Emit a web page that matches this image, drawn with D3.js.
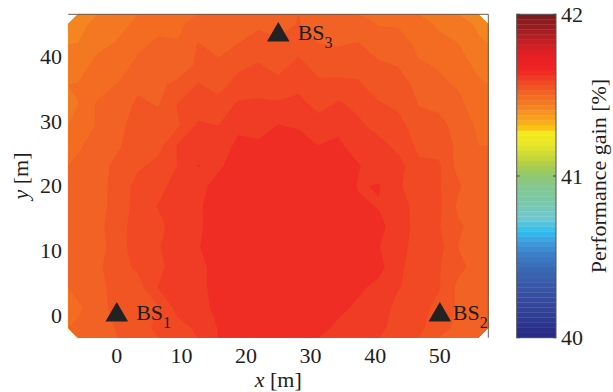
<!DOCTYPE html>
<html>
<head>
<meta charset="utf-8">
<script src="https://cdn.jsdelivr.net/npm/d3@7"></script>
<style>
  html, body { margin: 0; padding: 0; background: #fff; }
  svg { display: block; font-family: "Liberation Serif", "Times New Roman", serif; }
</style>
</head>
<body>
<svg id="chart" width="613" height="392"></svg>
<script>
// Area covered by the measurement grid (metres)
const xExtent = [-7.5, 57.5];
const yExtent = [-3.5, 46.5];

const xTicks = [0, 10, 20, 30, 40, 50];
const yTicks = [0, 10, 20, 30, 40];
const colorTicks = [40, 41, 42];
const gainDomain = [40, 42];

// Performance gain [%] on a 21 x 16 grid; first row is y = -3.5 m, last row y = 46.5 m,
// columns run from x = -7.5 m to x = 57.5 m.
const gainRows = [
  [41.505,41.502,41.539,41.532,41.579,41.581,41.601,41.626,41.629,41.636,41.644,41.642,41.638,41.617,41.608,41.608,41.571,41.575,41.535,41.529,41.507],
  [41.494,41.518,41.545,41.556,41.559,41.607,41.606,41.638,41.631,41.648,41.649,41.646,41.646,41.634,41.618,41.620,41.577,41.578,41.551,41.527,41.509],
  [41.513,41.514,41.555,41.550,41.595,41.600,41.615,41.637,41.646,41.651,41.654,41.644,41.654,41.648,41.632,41.615,41.596,41.577,41.566,41.522,41.527],
  [41.505,41.525,41.551,41.569,41.581,41.619,41.609,41.645,41.652,41.654,41.651,41.653,41.650,41.654,41.625,41.636,41.600,41.578,41.565,41.540,41.518],
  [41.516,41.514,41.555,41.572,41.591,41.610,41.623,41.641,41.653,41.652,41.649,41.654,41.651,41.653,41.644,41.626,41.606,41.580,41.574,41.530,41.530],
  [41.503,41.523,41.550,41.578,41.577,41.622,41.619,41.642,41.652,41.650,41.653,41.654,41.652,41.649,41.633,41.640,41.599,41.590,41.565,41.536,41.517],
  [41.518,41.517,41.548,41.572,41.596,41.611,41.621,41.637,41.651,41.653,41.650,41.654,41.652,41.653,41.635,41.622,41.621,41.570,41.570,41.524,41.526],
  [41.505,41.521,41.542,41.575,41.574,41.618,41.612,41.639,41.650,41.651,41.653,41.650,41.646,41.652,41.621,41.628,41.598,41.574,41.566,41.536,41.504],
  [41.513,41.512,41.546,41.557,41.573,41.595,41.626,41.617,41.646,41.634,41.652,41.647,41.643,41.641,41.628,41.602,41.607,41.567,41.568,41.519,41.516],
  [41.491,41.526,41.525,41.558,41.550,41.597,41.599,41.612,41.630,41.634,41.627,41.648,41.625,41.634,41.600,41.607,41.582,41.557,41.548,41.525,41.500],
  [41.494,41.501,41.523,41.545,41.557,41.558,41.600,41.593,41.620,41.605,41.626,41.619,41.614,41.613,41.601,41.580,41.580,41.535,41.542,41.519,41.494],
  [41.468,41.506,41.509,41.540,41.529,41.566,41.571,41.578,41.598,41.600,41.598,41.611,41.580,41.600,41.584,41.569,41.552,41.531,41.524,41.511,41.476],
  [41.471,41.484,41.502,41.522,41.529,41.534,41.566,41.547,41.579,41.581,41.578,41.579,41.571,41.571,41.569,41.539,41.553,41.517,41.509,41.495,41.477],
  [41.449,41.483,41.479,41.510,41.519,41.525,41.533,41.538,41.552,41.565,41.545,41.574,41.546,41.548,41.545,41.538,41.528,41.505,41.496,41.490,41.455],
  [41.439,41.459,41.473,41.491,41.507,41.501,41.533,41.519,41.532,41.539,41.542,41.543,41.532,41.529,41.534,41.509,41.524,41.488,41.487,41.469,41.447],
  [41.415,41.461,41.458,41.476,41.489,41.497,41.506,41.506,41.514,41.528,41.512,41.534,41.510,41.518,41.511,41.499,41.495,41.492,41.460,41.464,41.427]
];

// Base stations and where their labels start (metres)
const stationNames = ["1", "2", "3"];
const stationX = [0, 50, 25];
const stationY = [0, 0, 43.3];
const stationLabelX = [3, 52, 28];

// Colour map anchors (fraction of the colour range -> colour)
const cmapPos = [0, 0.05, 0.11, 0.20, 0.26, 0.30, 0.33, 0.37, 0.42, 0.47, 0.50, 0.53, 0.56, 0.60, 0.635, 0.65, 0.67, 0.70, 0.72, 0.76, 0.80, 0.83, 0.87, 0.92, 0.96, 1.0];
const cmapCol = ["#262680", "#2e3890", "#34489c", "#3a64b0", "#3c80c8", "#40a0e0", "#30c0f0", "#70c8d0", "#78c8a8", "#84c890", "#90c870", "#a8cc50", "#c8d838", "#e8e828", "#f5ea1a", "#fbc010", "#f8a818", "#f69020", "#f47c20", "#f26024", "#f04024", "#ee2424", "#e82024", "#c01e22", "#9a1c20", "#7a1a1c"];
const nColors = 64;

const svg = d3.select("#chart");
const plot = { left: 68.3, right: 488.3, top: 14.3, bottom: 337.7 };
const cbar = { left: 516.7, right: 556, top: 14.3, bottom: 337.7 };
const textColor = "#1e1e1e";
const fontSize = 22;

const x = d3.scaleLinear().domain(xExtent).range([plot.left, plot.right]);
const y = d3.scaleLinear().domain(yExtent).range([plot.bottom, plot.top]);

const cmap = d3.scaleLinear().domain(cmapPos).range(cmapCol).interpolate(d3.interpolateRgb).clamp(true);
const bandColor = k => cmap((k + 0.5) / nColors);
const step = (gainDomain[1] - gainDomain[0]) / nColors;
const levels = d3.range(nColors).map(k => gainDomain[0] + k * step);

// Filled contours
const nCols = gainRows[0].length, nRows = gainRows.length;
const values = gainRows.flat();
const contours = d3.contours().size([nCols, nRows]).thresholds(levels)(values);
const gx = d3.scaleLinear().domain([0, nCols]).range(xExtent);
const gy = d3.scaleLinear().domain([0, nRows]).range(yExtent);
const path = d3.geoPath(d3.geoTransform({
  point(px, py) { this.stream.point(x(gx(px)), y(gy(py))); }
}));

svg.append("clipPath").attr("id", "plotClip")
  .append("rect")
  .attr("x", plot.left).attr("y", plot.top)
  .attr("width", plot.right - plot.left).attr("height", plot.bottom - plot.top);

svg.append("g").attr("clip-path", "url(#plotClip)")
  .selectAll("path")
  .data(contours.filter(c => c.coordinates.length))
  .join("path")
  .attr("d", path)
  .attr("fill", c => bandColor(levels.indexOf(c.value)))
  .attr("stroke", c => bandColor(levels.indexOf(c.value)))
  .attr("stroke-width", 0.6)
  .attr("stroke-linejoin", "round");

// Axes frame (top and right edges show above the fill)
svg.append("path")
  .attr("d", `M${plot.left},${plot.top}H${plot.right}V${plot.bottom}`)
  .attr("fill", "none").attr("stroke", "#6b5a4a").attr("stroke-width", 1);

// Tick labels
svg.append("g").selectAll("text").data(xTicks).join("text")
  .attr("x", d => x(d)).attr("y", 363)
  .attr("text-anchor", "middle").attr("font-size", fontSize).attr("fill", textColor)
  .text(d => d);
svg.append("g").selectAll("text").data(yTicks).join("text")
  .attr("x", 62).attr("y", d => y(d)).attr("dy", "0.35em")
  .attr("text-anchor", "end").attr("font-size", fontSize).attr("fill", textColor)
  .text(d => d);

// Axis titles
const xl = svg.append("text").attr("x", (plot.left + plot.right) / 2).attr("y", 387)
  .attr("text-anchor", "middle").attr("font-size", fontSize).attr("fill", textColor);
xl.append("tspan").attr("font-style", "italic").text("x");
xl.append("tspan").text(" [m]");
const yl = svg.append("text")
  .attr("transform", `translate(28,${(plot.top + plot.bottom) / 2}) rotate(-90)`)
  .attr("text-anchor", "middle").attr("font-size", fontSize).attr("fill", textColor);
yl.append("tspan").attr("font-style", "italic").text("y");
yl.append("tspan").text(" [m]");

// Base stations
const bs = svg.append("g");
bs.selectAll("path").data(stationX).join("path")
  .attr("transform", (d, i) => `translate(${x(stationX[i])},${y(stationY[i])})`)
  .attr("d", d3.symbol(d3.symbolTriangle, 221)())
  .attr("fill", "#222");
const bsText = bs.selectAll("text").data(stationNames).join("text")
  .attr("x", (d, i) => x(stationLabelX[i]))
  .attr("y", (d, i) => y(stationY[i]) + 5)
  .attr("font-size", fontSize).attr("fill", textColor);
bsText.append("tspan").text("BS");
bsText.append("tspan").attr("font-size", 16).attr("dy", 8).text(d => d);

// Colour bar
const cy = d3.scaleLinear().domain(gainDomain).range([cbar.bottom, cbar.top]);
svg.append("g").selectAll("rect").data(d3.range(nColors)).join("rect")
  .attr("x", cbar.left)
  .attr("y", k => cy(gainDomain[0] + (k + 1) * step))
  .attr("width", cbar.right - cbar.left)
  .attr("height", k => cy(gainDomain[0] + k * step) - cy(gainDomain[0] + (k + 1) * step) + 0.3)
  .attr("fill", k => bandColor(k));
svg.append("rect")
  .attr("x", cbar.left).attr("y", cbar.top)
  .attr("width", cbar.right - cbar.left).attr("height", cbar.bottom - cbar.top)
  .attr("fill", "none").attr("stroke", "#555").attr("stroke-width", 1);
const cbTick = svg.append("g");
cbTick.selectAll("path").data(colorTicks).join("path")
  .attr("d", d => `M${cbar.left},${cy(d)}h3M${cbar.right},${cy(d)}h-3`)
  .attr("stroke", "#444").attr("stroke-width", 1);
cbTick.selectAll("text").data(colorTicks).join("text")
  .attr("x", cbar.right + 5).attr("y", d => cy(d)).attr("dy", "0.35em")
  .attr("font-size", fontSize).attr("fill", textColor)
  .text(d => d);
svg.append("text")
  .attr("transform", `translate(606,${(cbar.top + cbar.bottom) / 2}) rotate(-90)`)
  .attr("text-anchor", "middle").attr("font-size", fontSize).attr("fill", textColor)
  .text("Performance gain [%]");
</script>
</body>
</html>
